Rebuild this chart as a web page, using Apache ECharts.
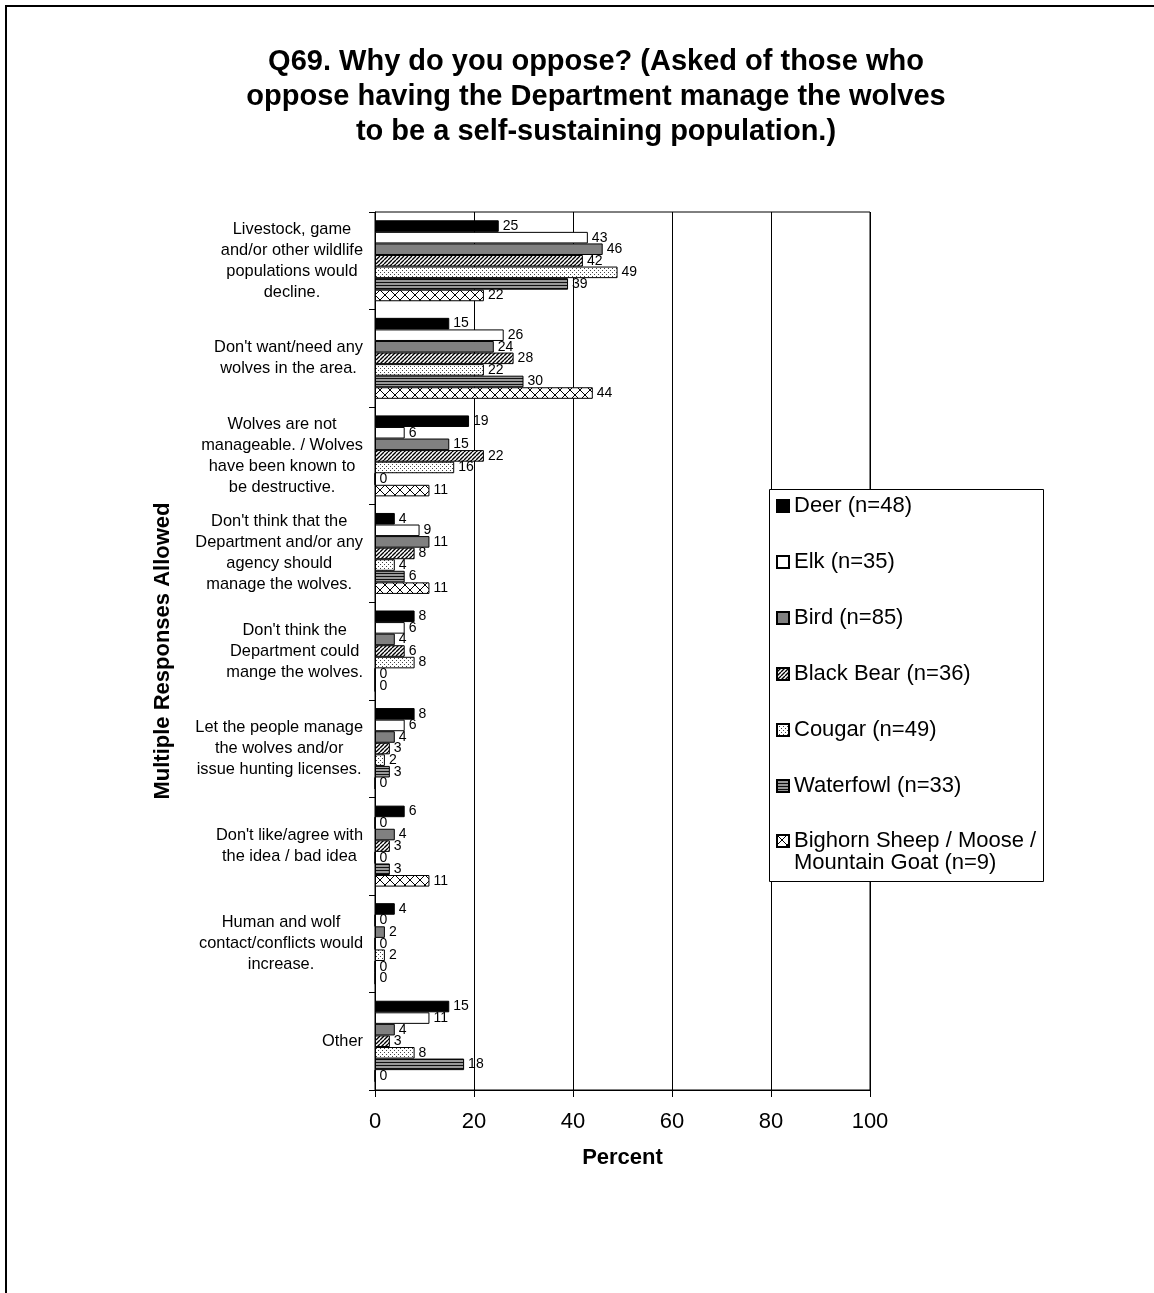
<!DOCTYPE html>
<html><head><meta charset="utf-8">
<script src="https://cdn.jsdelivr.net/npm/echarts@6/dist/echarts.min.js"></script>
<style>html,body{margin:0;padding:0;background:#fff;overflow:hidden}#c{width:1154px;height:1293px}</style>
</head><body><div id="c"></div>
<script>
const categories = [
  "Livestock, game\nand/or other wildlife\npopulations would\ndecline.",
  "Don't want/need any\nwolves in the area.",
  "Wolves are not\nmanageable. / Wolves\nhave been known to\nbe destructive.",
  "Don't think that the\nDepartment and/or any\nagency should\nmanage the wolves.",
  "Don't think the\nDepartment could\nmange the wolves.",
  "Let the people manage\nthe wolves and/or\nissue hunting licenses.",
  "Don't like/agree with\nthe idea / bad idea",
  "Human and wolf\ncontact/conflicts would\nincrease.",
  "Other"
];
const seriesNames = ["Deer (n=48)", "Elk (n=35)", "Bird (n=85)", "Black Bear (n=36)", "Cougar (n=49)", "Waterfowl (n=33)", "Bighorn Sheep / Moose /\nMountain Goat (n=9)"];
const deer      = [25, 15, 19, 4, 8, 8, 6, 4, 15];
const elk       = [43, 26, 6, 9, 6, 6, 0, 0, 11];
const bird      = [46, 24, 15, 11, 4, 4, 4, 2, 4];
const blackBear = [42, 28, 22, 8, 6, 3, 3, 0, 3];
const cougar    = [49, 22, 16, 4, 8, 2, 0, 2, 8];
const waterfowl = [39, 30, 0, 6, 0, 3, 3, 0, 18];
const bighorn   = [22, 44, 11, 11, 0, 0, 11, 0, 0];
const xTicks = [0, 20, 40, 60, 80, 100];
const titleText = "Q69. Why do you oppose? (Asked of those who\noppose having the Department manage the wolves\nto be a self-sustaining population.)";

const FF = "'Liberation Sans', Arial, sans-serif";
function makeCanvas(w, h, draw) { const c = document.createElement('canvas'); c.width = w; c.height = h; const g = c.getContext('2d'); draw(g, w, h); return c; }
const patDiag = makeCanvas(4, 4, g => { g.fillStyle = '#fff'; g.fillRect(0,0,4,4); g.strokeStyle = '#000'; g.lineWidth = 1.4; g.beginPath(); for (let k = -4; k <= 8; k += 4) { g.moveTo(k, 4); g.lineTo(k + 4, 0); } g.stroke(); });
const patDots = makeCanvas(4, 4, g => { g.fillStyle = '#fff'; g.fillRect(0,0,4,4); g.fillStyle = '#444'; g.fillRect(0,0,1,1); g.fillRect(2,2,1,1); });
const patHoriz = makeCanvas(2, 3, g => { g.fillStyle = '#999'; g.fillRect(0,0,2,3); g.fillStyle = '#111'; g.fillRect(0,0,2,1); });
const patCross = makeCanvas(10, 10, g => { g.fillStyle = '#fff'; g.fillRect(0,0,10,10); g.strokeStyle = '#000'; g.lineWidth = 1; g.beginPath(); g.moveTo(0,0); g.lineTo(10,10); g.moveTo(0,10); g.lineTo(10,0); g.stroke(); });
const fills = ['#000', '#fff', '#808080', {image: patDiag, repeat: 'repeat'}, {image: patDots, repeat: 'repeat'}, {image: patHoriz, repeat: 'repeat'}, {image: patCross, repeat: 'repeat'}];
const seriesData = [deer, elk, bird, blackBear, cougar, waterfowl, bighorn];

const legendText = {fontSize: 22, lineHeight: 22, fontFamily: FF, color: '#000'};
const chart = echarts.init(document.getElementById('c'), null, {renderer: 'canvas'});
chart.setOption({
  animation: false,
  backgroundColor: '#fff',
  title: {text: titleText, left: 591, top: 39, textAlign: 'center', textStyle: {fontSize: 29, fontWeight: 'bold', lineHeight: 35, fontFamily: FF, color: '#000'}},
  graphic: [
    {type: 'rect', z: 0, shape: {x: 6, y: 6, width: 1300, height: 1400}, style: {fill: 'none', stroke: '#000', lineWidth: 2}, silent: true},
    {type: 'rect', z: 3, shape: {x: 769.5, y: 489.5, width: 274, height: 392}, style: {fill: '#fff', stroke: '#000', lineWidth: 1}, silent: true}
  ],
  grid: {left: 375, right: 284, top: 212, bottom: 203, show: true, borderColor: '#000', borderWidth: 1, outerBoundsMode: 'none'},
  legend: [
    {
      orient: 'vertical', left: 776, top: 495, padding: 0, itemGap: 34, itemWidth: 12, itemHeight: 12, icon: 'rect',
      selectedMode: false, z: 4, textStyle: legendText,
      data: seriesNames.slice(0, 6)
    },
    {
      orient: 'vertical', left: 776, top: 808, padding: 0, itemWidth: 12, itemHeight: 12, icon: 'rect',
      selectedMode: false, z: 4,
      textStyle: Object.assign({}, legendText, {rich: {e: legendText, a: legendText}}),
      formatter: name => '{e| }\n' + name.split('\n').map(s => '{a|' + s + '}').join('\n'),
      data: seriesNames.slice(6)
    }
  ],
  xAxis: {
    type: 'value', min: 0, max: 100, interval: 20,
    axisLine: {show: true, lineStyle: {color: '#000'}},
    axisTick: {show: true, length: 7, lineStyle: {color: '#000'}},
    splitLine: {show: true, lineStyle: {color: '#000', width: 1}},
    axisLabel: {fontSize: 22, margin: 21, color: '#000', fontFamily: FF, formatter: v => xTicks.includes(v) ? String(v) : ''},
    name: 'Percent', nameLocation: 'middle', nameGap: 57,
    nameTextStyle: {fontSize: 22, fontWeight: 'bold', fontFamily: FF, color: '#000'}
  },
  yAxis: {
    type: 'category', inverse: true, data: categories,
    axisLine: {show: true, lineStyle: {color: '#000'}},
    axisTick: {show: true, length: 6, lineStyle: {color: '#000'}},
    splitLine: {show: false},
    axisLabel: {
      interval: 0, margin: 12, align: 'right', fontSize: 16.4, lineHeight: 21, color: '#000', fontFamily: FF,
      formatter: v => v.split('\n').map(s => '{c|' + s + '}').join('\n'),
      rich: {c: {align: 'center', fontSize: 16.4, lineHeight: 21, fontFamily: FF, color: '#000'}}
    },
    name: 'Multiple Responses Allowed', nameLocation: 'middle', nameGap: 201,
    nameTextStyle: {fontSize: 22, fontWeight: 'bold', fontFamily: FF, color: '#000'}
  },
  series: seriesNames.map((n, i) => ({
    name: n, type: 'bar', data: seriesData[i], barGap: '0%', barCategoryGap: '17%',
    itemStyle: {color: fills[i], borderColor: '#000', borderWidth: 1},
    label: {show: true, position: 'right', distance: 4, fontSize: 14, color: '#000', fontFamily: FF}
  }))
});
</script></body></html>
